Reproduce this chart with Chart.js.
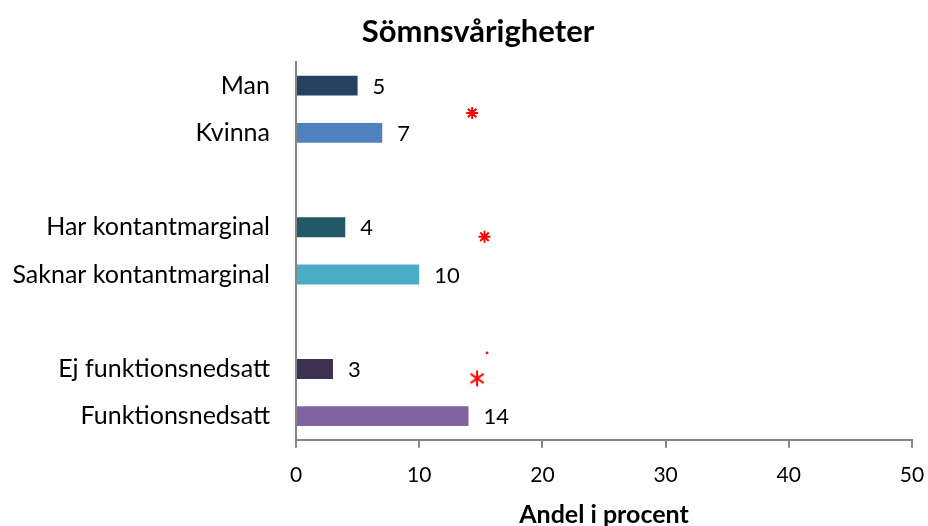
<!DOCTYPE html>
<html lang="sv">
<head>
<meta charset="UTF-8">
<title>Sömnsvårigheter</title>
<script src="https://cdn.jsdelivr.net/npm/chart.js"></script>
<style>
  body { margin: 0; background: #fff; }
</style>
</head>
<body>
<canvas id="chart" width="928" height="526"></canvas>
<script>
// Grupper, tomma etiketter ger luft mellan grupperna
const categories = ['Man', 'Kvinna', '', 'Har kontantmarginal', 'Saknar kontantmarginal', '', 'Ej funktionsnedsatt', 'Funktionsnedsatt'];
const values = [5, 7, null, 4, 10, null, 3, 14];
const xTicks = [0, 10, 20, 30, 40, 50];

// Signifikansmarkeringar: andel (x) och läge i kategoriindex (y)
const sigX = [14.3, 15.3, 14.7, 15.5];
const sigY = [0.58, 3.2, 6.2, 5.66];

const chartTitle = 'Sömnsvårigheter';

// tre streck, en vanlig asterisk
function asterisk(size) {
    const c = document.createElement('canvas');
    c.width = c.height = size;
    const g = c.getContext('2d');
    g.strokeStyle = '#ff0000';
    g.lineWidth = 2;
    const m = size / 2, r = size / 2 - 1;
    [90, 35, 145].forEach(a => {
        const rad = a * Math.PI / 180;
        g.beginPath();
        g.moveTo(m - r * Math.cos(rad), m - r * Math.sin(rad));
        g.lineTo(m + r * Math.cos(rad), m + r * Math.sin(rad));
        g.stroke();
    });
    return c;
}

// siffran till höger om varje stapel
const valueLabels = {
    id: 'valueLabels',
    afterDatasetsDraw(chart) {
        const ctx = chart.ctx;
        const meta = chart.getDatasetMeta(0);
        ctx.save();
        ctx.font = '22px Lato';
        ctx.fillStyle = '#000';
        ctx.textAlign = 'left';
        ctx.textBaseline = 'middle';
        meta.data.forEach((bar, i) => {
            if (values[i] == null) return;
            ctx.fillText(values[i], bar.x + 15, bar.y + 1);
        });
        ctx.restore();
    }
};

// rubriken, lite till höger om mitten
const topTitle = {
    id: 'topTitle',
    afterDraw(chart) {
        const ctx = chart.ctx;
        ctx.save();
        ctx.font = 'bold 31px Lato';
        ctx.fillStyle = '#000';
        ctx.textAlign = 'center';
        ctx.textBaseline = 'middle';
        ctx.fillText(chartTitle, chart.width / 2 + 14, 32);
        ctx.restore();
    }
};

new Chart(document.getElementById('chart'), {
    type: 'bar',
    data: {
        labels: categories,
        datasets: [{
            data: values,
            backgroundColor: ['#254061', '#4f81bd', '#fff', '#215968', '#4bacc6', '#fff', '#3f3151', '#8064a2'],
            grouped: false,
            barPercentage: 0.42,
            categoryPercentage: 1,
            xAxisID: 'x',
            yAxisID: 'y'
        }, {
            type: 'scatter',
            indexAxis: 'x',
            data: sigX.map((x, i) => ({ x: x, y: sigY[i] })),
            xAxisID: 'x',
            yAxisID: 'sig',
            pointStyle: ['star', 'star', asterisk(18), 'circle'],
            radius: [6, 6, 9, 1],
            borderColor: '#ff0000',
            backgroundColor: '#ff0000',
            borderWidth: [2, 2, 1, 1]
        }]
    },
    options: {
        indexAxis: 'y',
        responsive: false,
        animation: false,
        layout: { padding: { left: 0, right: 16, top: 62, bottom: 0 } },
        plugins: {
            legend: { display: false },
            tooltip: { enabled: false },
            title: { display: false }
        },
        scales: {
            x: {
                type: 'linear',
                min: xTicks[0],
                max: xTicks[xTicks.length - 1],
                afterBuildTicks(s) { s.ticks = xTicks.map(v => ({ value: v })); },
                // etikettavståndet ska inte knuffa in axelns högra ände
                afterFit(s) { s.paddingLeft = 0; s.paddingRight = 0; },
                ticks: { font: { family: 'Lato', size: 21 }, color: '#000', padding: 15 },
                grid: { drawOnChartArea: false, drawTicks: true, tickLength: 8, color: '#868686', lineWidth: 2 },
                border: { color: '#868686', width: 2 },
                title: {
                    display: true,
                    text: 'Andel i procent',
                    color: '#000',
                    font: { family: 'Lato', size: 25, weight: 'bold', lineHeight: 0.88 },
                    padding: { top: 1, bottom: 0 }
                }
            },
            y: {
                type: 'category',
                grid: { display: false, drawTicks: false },
                border: { color: '#868686', width: 2 },
                ticks: { font: { family: 'Lato', size: 25 }, color: '#000', padding: 26 },
                afterFit(s) { s.width = 296; }
            },
            sig: { type: 'linear', display: false, offset: false, min: -0.5, max: 7.5, reverse: true }
        }
    },
    plugins: [valueLabels, topTitle]
});
</script>
</body>
</html>
